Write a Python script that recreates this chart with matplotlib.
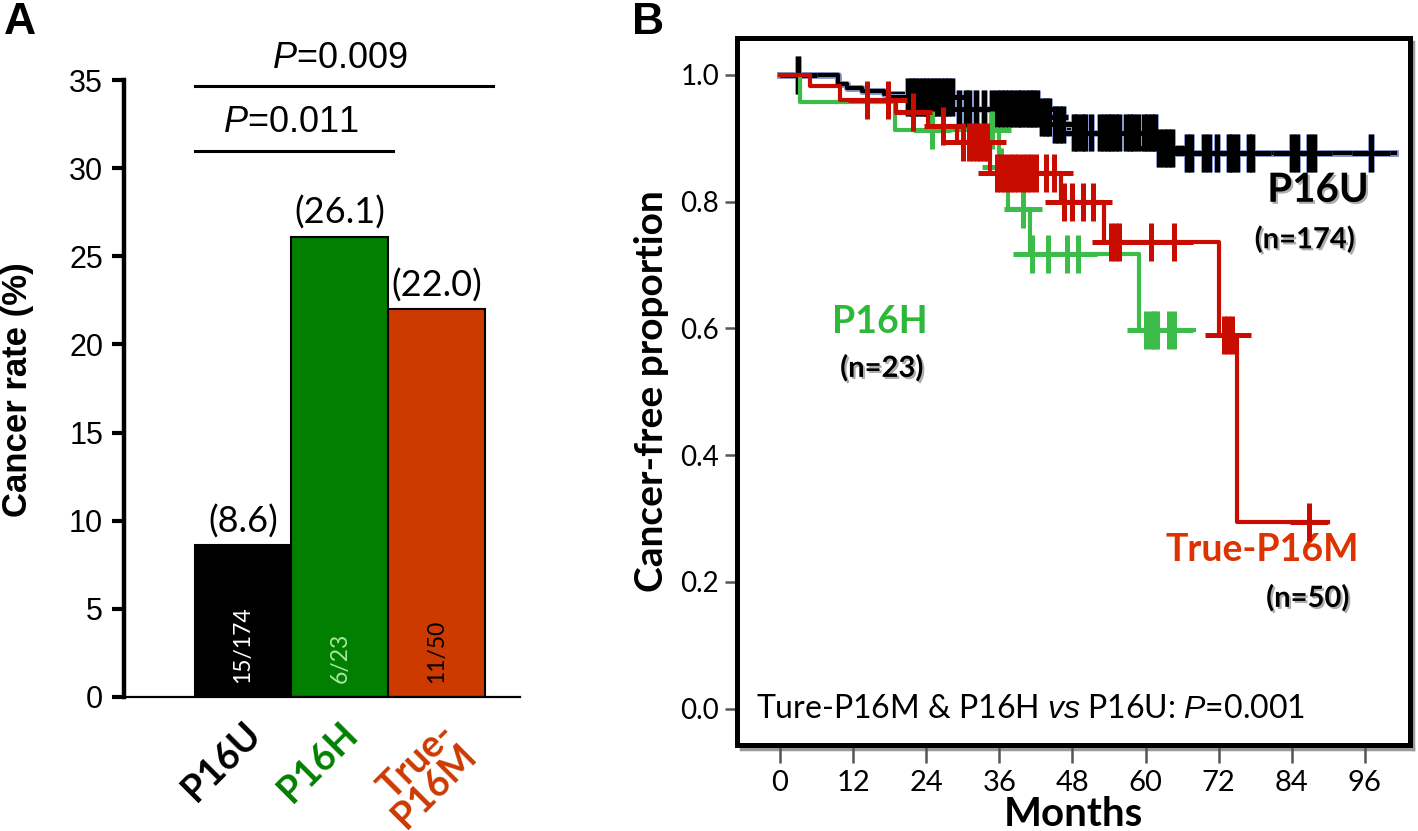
import numpy as np
import matplotlib
matplotlib.use('Agg')
import matplotlib.pyplot as plt
import matplotlib.patheffects as pe
from matplotlib.lines import Line2D

plt.rcParams['mathtext.fontset'] = 'custom'
plt.rcParams['mathtext.it'] = 'Liberation Sans:italic'
plt.rcParams['mathtext.rm'] = 'Liberation Sans'

# ---- panel A data ----
groups = ['P16U', 'P16H', 'True-\nP16M']
rates = [8.6, 26.1, 22.0]
counts = ['15/174', '6/23', '11/50']
bar_colors = ['#000000', '#007f00', '#cc3a00']
count_colors = ['white', '#a8e6a0', 'black']
label_colors = ['black', '#008000', '#cc3a00']
pvals_a = ['0.011', '0.009']

# ---- panel B data (Kaplan-Meier) ----
p16u_t = [0, 9.5, 11, 13.5, 17, 20.5, 28.5, 42.6, 44.7, 47.5, 62, 64.5]
p16u_s = [1.0, 0.985, 0.980, 0.975, 0.970, 0.965, 0.947, 0.934, 0.922, 0.909, 0.885, 0.877]
p16u_end = 101
p16u_cens = [3.0, 21.0, 21.6, 22.2, 22.8, 23.4, 24.0, 24.6, 25.2, 25.8, 26.4, 27.0, 27.6, 28.2,
             29.3, 30.5, 31.0, 32.2, 33.5, 34.8, 35.6, 36.3, 37.0, 37.6, 38.3, 39.0, 39.6,
             40.3, 41.0, 41.6, 42.2, 43.0, 43.6, 44.2, 45.2, 45.8, 46.5, 48.2, 48.8, 49.5,
             50.1, 51.0, 52.6, 53.2, 53.8, 54.4, 55.0, 55.6, 56.8, 57.4, 58.0, 58.7, 59.8,
             60.4, 61.0, 61.6, 62.2, 63.1, 63.6, 64.4, 66.8, 67.5, 69.6, 70.4, 71.8, 73.7,
             74.2, 75.0, 77.0, 77.5, 84.0, 84.8, 86.8, 87.6, 97.0]

p16h_t = [0, 3.3, 18.8, 36.0, 37.5, 41.0, 59.0]
p16h_s = [1.0, 0.957, 0.913, 0.854, 0.788, 0.717, 0.597]
p16h_end = 68
p16h_cens = [25.0, 34.8, 36.3, 39.9, 41.3, 44.0, 47.1, 48.9, 60.1, 60.9, 61.4, 61.9, 63.9, 64.7]

p16m_t = [0, 4.9, 9.8, 19.0, 24.3, 29.0, 34.4, 46.2, 53.2, 72.1, 75.0]
p16m_s = [1.0, 0.982, 0.961, 0.942, 0.919, 0.895, 0.845, 0.800, 0.736, 0.589, 0.295]
p16m_end = 90
p16m_cens = [14.3, 17.7, 21.8, 26.7, 30.0, 31.0, 31.6, 32.3, 32.8, 33.4, 33.9, 35.6, 36.3,
             37.0, 37.7, 38.4, 39.1, 39.8, 40.5, 41.2, 42.0, 43.7, 45.0, 46.6, 48.0, 49.7,
             51.3, 54.4, 55.0, 55.6, 60.9, 64.7, 72.8, 73.6, 74.2, 86.8]

W, H = 1418, 831
fig = plt.figure(figsize=(W / 100, H / 100), dpi=100)


def box(l, t, r, b):
    return [l / W, 1 - b / H, (r - l) / W, (b - t) / H]


# ================= Panel A =================
axA = fig.add_axes(box(124, 80, 520, 697))
x = np.arange(len(groups))
axA.bar(x, rates, width=1, color=bar_colors, edgecolor='black', linewidth=1.5)
for i in range(len(groups)):
    axA.text(x[i], rates[i] + 0.4, f'({rates[i]:.1f})', ha='center', va='bottom',
             fontsize=26, family='Lato')
    axA.text(x[i], 0.8, counts[i], rotation=90, ha='center', va='bottom',
             fontsize=16.5, family='Lato', color=count_colors[i])

# significance lines
axA.plot([-0.5, 1.55], [31.0, 31.0], color='black', lw=2.2, clip_on=False)
axA.text(0.49, 31.6, '$P$=' + pvals_a[0], ha='center', va='bottom', fontsize=26,
         family='Liberation Sans')
axA.plot([-0.5, 2.58], [34.66, 34.66], color='black', lw=2.2, clip_on=False)
axA.text(1.0, 35.25, '$P$=' + pvals_a[1], ha='center', va='bottom', fontsize=26,
         family='Liberation Sans', clip_on=False)

axA.set_xlim(-1.227, 2.856)
axA.set_ylim(0, 35)
axA.set_yticks(np.arange(0, 36, 5))
axA.tick_params(axis='y', length=9, width=3, labelsize=22, pad=6)
for lab in axA.get_yticklabels():
    lab.set_family('Liberation Sans')
axA.spines['top'].set_visible(False)
axA.spines['right'].set_visible(False)
axA.spines['left'].set_linewidth(3.2)
axA.spines['bottom'].set_linewidth(1.6)
axA.set_xticks(x)
axA.set_xticklabels(groups, rotation=45, ha='right', rotation_mode='anchor',
                    fontsize=27, fontweight='bold', family='Lato', linespacing=0.85)
axA.tick_params(axis='x', length=0, pad=14)
for lab, c in zip(axA.get_xticklabels(), label_colors):
    lab.set_color(c)
fig.text(18 / W, 1 - 390 / H, 'Cancer rate (%)', rotation=90, ha='center', va='center',
         fontsize=25, fontweight='bold', family='Liberation Sans')
fig.text(20 / W, 1 - 22 / H, 'A', ha='center', va='center', fontsize=32,
         fontweight='bold', family='Liberation Sans')

# ================= Panel B =================
axB = fig.add_axes(box(737, 38, 1410, 745))
halo = [pe.Stroke(linewidth=5, foreground='#8898d0'), pe.Normal()]
series = [
    (p16u_t, p16u_s, p16u_end, p16u_cens, 'black', halo, 3),
    (p16h_t, p16h_s, p16h_end, p16h_cens, '#3cbc48', None, 4),
    (p16m_t, p16m_s, p16m_end, p16m_cens, '#c80c00', None, 5),
]
for t, s, end, cens, col, eff, z in series:
    t = np.asarray(t, float)
    s = np.asarray(s, float)
    axB.step(np.append(t, end), np.append(s, s[-1]), where='post', color=col, lw=3,
             zorder=z, path_effects=eff)
    cens = np.asarray(cens, float)
    lev = s[np.searchsorted(t, cens, side='right') - 1]
    axB.plot(cens, lev, '+', color=col, ms=27, mew=3.6, zorder=z, path_effects=eff)

axB.set_xlim(-7.06, 103.4)
axB.set_ylim(-0.0576, 1.0584)
axB.set_xticks(np.arange(0, 97, 12))
axB.set_yticks(np.arange(0, 1.01, 0.2))
axB.set_yticklabels([f'{v:.1f}' for v in np.arange(0, 1.01, 0.2)])
for sp in axB.spines.values():
    sp.set_linewidth(3.6)
axB.tick_params(axis='both', direction='out', length=9, width=1.8, color='#555555',
                labelsize=20, pad=4)
axB.tick_params(axis='x', length=13, pad=5, labelsize=21)
for lab in axB.get_xticklabels() + axB.get_yticklabels():
    lab.set_family('Lato')
axB.set_xlabel('Months', fontsize=29, fontweight='bold', family='Lato', labelpad=0)
axB.set_ylabel('Cancer-free proportion', fontsize=28, fontweight='bold', family='Lato',
               labelpad=8)

# frame shadow
fig.add_artist(Line2D([1413 / W, 1413 / W], [1 - 42 / H, 1 - 749 / H], color='#9a9a9a',
                      lw=2.5, zorder=-1))
fig.add_artist(Line2D([741 / W, 1413 / W], [1 - 749 / H, 1 - 749 / H], color='#9a9a9a',
                      lw=2.5, zorder=-1))

shadow = [pe.withSimplePatchShadow(offset=(1.5, -1.5), shadow_rgbFace='#9a9a9a', alpha=0.8)]
axB.text(88.3, 0.818, 'P16U', ha='center', va='center', fontsize=29, fontweight='bold',
         family='Lato', path_effects=shadow)
axB.text(86.1, 0.740, '(n=174)', ha='center', va='center', fontsize=21, fontweight='bold',
         family='Lato', path_effects=shadow)
axB.text(16.4, 0.61, 'P16H', ha='center', va='center', fontsize=27, fontweight='bold',
         family='Lato', color='#2eb83a')
axB.text(16.7, 0.537, '(n=23)', ha='center', va='center', fontsize=21, fontweight='bold',
         family='Lato', path_effects=shadow)
axB.text(79.1, 0.25, 'True-P16M', ha='center', va='center', fontsize=27, fontweight='bold',
         family='Lato', color='#dd3300')
axB.text(86.6, 0.174, '(n=50)', ha='center', va='center', fontsize=21, fontweight='bold',
         family='Lato', path_effects=shadow)
axB.text(-3.9, 0.0, 'Ture-P16M & P16H $\\mathit{vs}$ P16U: $\\mathit{P}$=0.001',
         ha='left', va='center', fontsize=23, family='Lato')
fig.text(648 / W, 1 - 22 / H, 'B', ha='center', va='center', fontsize=32,
         fontweight='bold', family='Liberation Sans')

fig.savefig('out.png', dpi=100)
